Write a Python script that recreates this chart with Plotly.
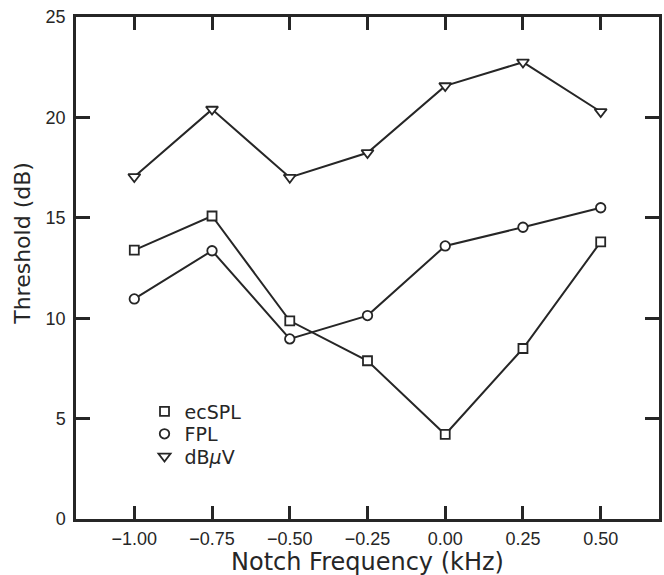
import plotly.graph_objects as go

# Notch centre frequency relative to the probe (kHz)
notch_khz = [-1.00, -0.75, -0.50, -0.25, 0.00, 0.25, 0.50]

# Thresholds (dB) for each calibration method
ec_spl = [13.39, 15.09, 9.87, 7.88, 4.21, 8.49, 13.80]
fpl = [10.96, 13.36, 8.97, 10.13, 13.60, 14.53, 15.50]
db_uv = [17.04, 20.40, 17.01, 18.24, 21.57, 22.75, 20.28]

series_names = ["ecSPL", "FPL", "dB<i>μ</i>V"]
series_values = [ec_spl, fpl, db_uv]
series_symbols = ["square", "circle", "triangle-down"]
series_sizes = [9, 9.5, 10.5]

x_ticks = [-1.00, -0.75, -0.50, -0.25, 0.00, 0.25, 0.50]
y_ticks = [0, 5, 10, 15, 20, 25]

INK = "#262626"

fig = go.Figure()

for name, vals, sym, size in zip(series_names, series_values, series_symbols, series_sizes):
    fig.add_trace(go.Scatter(
        x=notch_khz, y=vals, mode="lines+markers", name=name,
        showlegend=False,
        line=dict(color=INK, width=2),
        marker=dict(symbol=sym, size=size, color="white",
                    line=dict(color=INK, width=1.8)),
    ))

# One marker-only key entry per legend box, stacked down the lower left
legend_ids = ["legend", "legend2", "legend3"]
legend_tops = [0.2520, 0.2073, 0.1625]
for name, sym, size, lid in zip(series_names, series_symbols, series_sizes, legend_ids):
    fig.add_trace(go.Scatter(
        x=[None], y=[None], mode="markers", name=name, showlegend=True,
        legend=lid,
        marker=dict(symbol=sym, size=size, color="white",
                    line=dict(color=INK, width=1.8)),
    ))

axis_common = dict(
    showgrid=False, zeroline=False,
    showline=True, linecolor=INK, linewidth=2.5, mirror="allticks",
    ticks="inside", tickcolor=INK, tickwidth=2.5,
    tickfont=dict(family="Liberation Sans", size=18, color=INK),
)

fig.update_xaxes(
    range=[-1.1875, 0.6875], tickvals=x_ticks, tickformat=".2f",
    ticklen=13, ticklabelstandoff=2,
    **axis_common,
)
fig.update_yaxes(
    range=[0, 25], tickvals=y_ticks, ticklen=14, ticklabelstandoff=4,
    **axis_common,
)

fig.add_annotation(
    text="Notch Frequency (kHz)", showarrow=False,
    xref="paper", yref="paper", x=0.5, y=-0.085,
    xanchor="center", yanchor="middle",
    font=dict(family="DejaVu Sans", size=24, color=INK),
)
fig.add_annotation(
    text="Threshold (dB)", textangle=-90, showarrow=False,
    xref="paper", yref="paper", x=-0.0911, y=0.55,
    xanchor="center", yanchor="middle",
    font=dict(family="DejaVu Sans", size=22, color=INK),
)

legend_style = dict(
    x=0.1175, xanchor="left", yanchor="top",
    bgcolor="rgba(0,0,0,0)",
    font=dict(family="DejaVu Sans", size=19, color=INK),
    itemsizing="trace",
)
fig.update_layout(
    width=664, height=575,
    margin=dict(l=76, r=2, t=17, b=56),
    paper_bgcolor="white", plot_bgcolor="white",
    legend=dict(y=legend_tops[0], **legend_style),
    legend2=dict(y=legend_tops[1], **legend_style),
    legend3=dict(y=legend_tops[2], **legend_style),
)

fig.write_html("out.html")
